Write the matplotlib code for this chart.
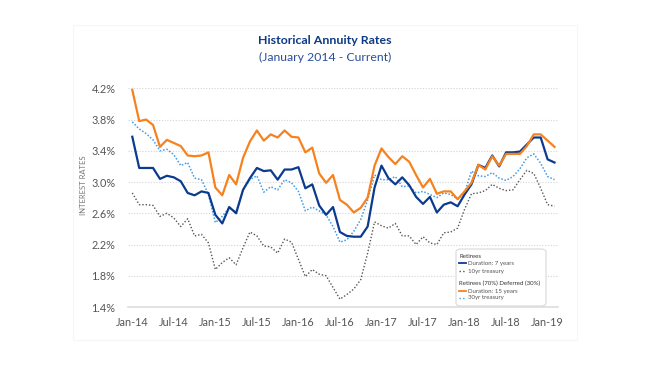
import matplotlib
matplotlib.use("Agg")
import matplotlib.pyplot as plt
from matplotlib.lines import Line2D
from matplotlib.patches import FancyBboxPatch, Rectangle

plt.rcParams['font.family'] = ['Lato', 'DejaVu Sans']

# monthly, Jan-14 .. Feb-19
months = [f"{m}-{y:02d}" for y in range(14, 20) for m in
          ["Jan", "Feb", "Mar", "Apr", "May", "Jun", "Jul", "Aug", "Sep", "Oct", "Nov", "Dec"]][:62]

retirees_7yr = [3.58, 3.18, 3.18, 3.18, 3.04, 3.08, 3.06, 3.01, 2.86, 2.83, 2.88, 2.86,
                2.58, 2.47, 2.68, 2.60, 2.90, 3.05, 3.18, 3.14, 3.15, 3.03, 3.16, 3.16,
                3.19, 2.92, 2.97, 2.70, 2.58, 2.68, 2.36, 2.31, 2.30, 2.30, 2.43, 2.93,
                3.21, 3.05, 2.97, 3.06, 2.96, 2.81, 2.72, 2.81, 2.61, 2.71, 2.74, 2.69,
                2.84, 2.97, 3.22, 3.18, 3.34, 3.20, 3.38, 3.38, 3.39, 3.48, 3.57, 3.57,
                3.29, 3.25]

treasury_10yr = [2.86, 2.71, 2.71, 2.70, 2.56, 2.60, 2.54, 2.43, 2.53, 2.31, 2.33, 2.22,
                 1.88, 1.97, 2.03, 1.94, 2.16, 2.36, 2.31, 2.18, 2.17, 2.09, 2.27, 2.23,
                 2.01, 1.79, 1.88, 1.82, 1.80, 1.65, 1.50, 1.56, 1.63, 1.75, 2.09, 2.49,
                 2.44, 2.41, 2.47, 2.31, 2.31, 2.20, 2.30, 2.22, 2.20, 2.35, 2.36, 2.41,
                 2.65, 2.85, 2.86, 2.89, 2.97, 2.92, 2.89, 2.90, 3.03, 3.15, 3.11, 2.92,
                 2.71, 2.69]

deferred_15yr = [4.18, 3.78, 3.80, 3.73, 3.45, 3.54, 3.50, 3.46, 3.34, 3.33, 3.34, 3.38,
                 2.93, 2.83, 3.09, 2.97, 3.31, 3.52, 3.66, 3.53, 3.61, 3.57, 3.66, 3.58,
                 3.57, 3.38, 3.44, 3.11, 2.99, 3.09, 2.77, 2.71, 2.61, 2.67, 2.80, 3.21,
                 3.43, 3.32, 3.23, 3.33, 3.26, 3.09, 2.93, 3.04, 2.85, 2.88, 2.88, 2.78,
                 2.88, 2.99, 3.22, 3.16, 3.33, 3.21, 3.36, 3.36, 3.36, 3.46, 3.61, 3.61,
                 3.53, 3.45]

treasury_30yr = [3.77, 3.68, 3.62, 3.54, 3.40, 3.42, 3.35, 3.21, 3.25, 3.05, 3.03, 2.84,
                 2.48, 2.56, 2.67, 2.62, 2.90, 3.03, 3.08, 2.87, 2.94, 2.90, 3.03, 2.99,
                 2.88, 2.63, 2.68, 2.63, 2.58, 2.43, 2.23, 2.26, 2.37, 2.52, 2.77, 3.09,
                 3.03, 3.03, 3.07, 2.94, 2.95, 2.86, 2.88, 2.84, 2.80, 2.86, 2.84, 2.78,
                 2.86, 3.14, 3.08, 3.07, 3.12, 3.05, 3.02, 3.07, 3.17, 3.31, 3.36, 3.24,
                 3.07, 3.03]

y_ticks = [1.4, 1.8, 2.2, 2.6, 3.0, 3.4, 3.8, 4.2]

NAVY = '#0b3b8f'
ORANGE = '#f5821f'
LIGHTBLUE = '#3d9be9'
GREY = '#555555'

fig = plt.figure(figsize=(6.5, 3.66), dpi=100)
fig.patch.set_facecolor('white')

# very faint card outline
fig.patches.append(Rectangle((73 / 650, 1 - 340 / 366), 504 / 650, 315 / 366,
                             transform=fig.transFigure, fill=False,
                             edgecolor='#f6f6f6', lw=0.8))

ax = fig.add_axes([128 / 650, 1 - 307 / 366, 430 / 650, 218.7 / 366])
x = list(range(len(months)))

ax.plot(x, treasury_10yr, color=GREY, lw=1.0, linestyle=(0, (1, 1.4)))
ax.plot(x, treasury_30yr, color=LIGHTBLUE, lw=1.1, linestyle=(0, (1, 1.2)))
ax.plot(x, retirees_7yr, color=NAVY, lw=1.6)
ax.plot(x, deferred_15yr, color=ORANGE, lw=1.6)

ax.set_xlim(-0.62, 61.5)
ax.set_ylim(1.4, 4.2)
ax.set_yticks(y_ticks)
ax.set_yticklabels([f"{v:.1f}%" for v in y_ticks])
ax.set_xticks(x[::6])
ax.set_xticklabels(months[::6])
ax.tick_params(length=0, labelsize=7.8, labelcolor='#555555')
ax.tick_params(axis='y', pad=9)
ax.tick_params(axis='x', pad=7)

for v in y_ticks[1:]:
    ax.axhline(v, color='#d4d4d4', lw=0.8, linestyle=(0, (1, 1.5)), zorder=0)
for s in ['top', 'right', 'left']:
    ax.spines[s].set_visible(False)
ax.spines['bottom'].set_color('#dddddd')
ax.spines['bottom'].set_linewidth(1.2)

fig.text(83 / 650, 1 - 185 / 366, 'INTEREST RATES', rotation=90, ha='center', va='center',
         fontsize=5.5, color='#777777')

fig.text(0.5, 1 - 41 / 366, 'Historical Annuity Rates', ha='center', va='center',
         fontsize=8.9, fontweight='bold', color='#0d3a84')
fig.text(0.5, 1 - 57 / 366, '(January 2014 - Current)', ha='center', va='center',
         fontsize=8.8, color='#2a4f99')

# legend box
def fx(px):
    return px / 650

def fy(py):
    return 1 - py / 366

fig.patches.append(FancyBboxPatch((fx(456), fy(306)), fx(90), 57 / 366,
                                  boxstyle='round,pad=0,rounding_size=0.008',
                                  transform=fig.transFigure, facecolor='white',
                                  edgecolor='#d9d9d9', lw=0.8, zorder=5))
legend_rows = [
    (256, None, None, 'Retirees'),
    (263, NAVY, '-', 'Duration: 7 years'),
    (271, GREY, ':', '10yr treasury'),
    (283, None, None, 'Retirees (70%) Deferred (30%)'),
    (291, ORANGE, '-', 'Duration: 15 years'),
    (298, LIGHTBLUE, ':', '30yr treasury'),
]
for py, col, ls, label in legend_rows:
    if col is None:
        fig.text(fx(459), fy(py), label, ha='left', va='center', fontsize=4.4,
                 color='#333333', zorder=6)
    else:
        fig.lines.append(Line2D([fx(459), fx(466)], [fy(py), fy(py)], color=col,
                                lw=1.3 if ls == '-' else 1.0, linestyle=ls,
                                transform=fig.transFigure, zorder=6))
        fig.text(fx(468), fy(py), label, ha='left', va='center', fontsize=4.4,
                 color='#555555', zorder=6)

fig.savefig('out.png', dpi=100)
